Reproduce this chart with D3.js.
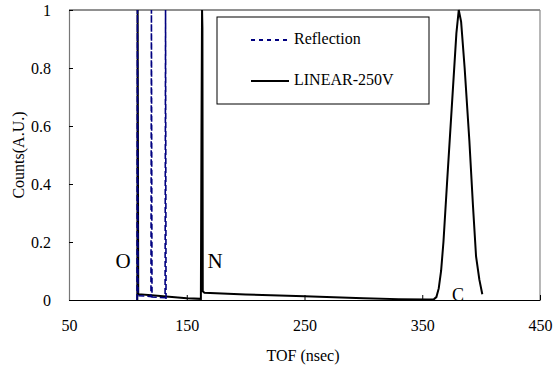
<!DOCTYPE html>
<html><head><meta charset="utf-8">
<script src="https://cdn.jsdelivr.net/npm/d3@7"></script>
<style>body{margin:0;background:#fff}svg{display:block}</style>
</head><body>
<script>
const xTicks = [50, 150, 250, 350, 450];
const yTicks = [0, 0.2, 0.4, 0.6, 0.8, 1];
const reflection = [
  [107.8,0],[108.1,1],[108.6,0.015],[119.6,0.012],[120,1],[120.5,0.01],[131.6,0.008],[132,1],[132.4,0.003]
];
const linear = [
  [107.5,0],[108,0],[108.3,1],[108.8,0.02],[120,0.016],[135,0.011],[150,0.006],[162,0.004],
  [162.5,0.57],[163,1],[163.3,0.94],[163.6,0.03],[165,0.025],[200,0.019],[250,0.013],[300,0.006],
  [330,0.003],[355,0.002],[360,0.003],[362,0.01],[364,0.04],[366,0.1],[368,0.2],[371,0.4],
  [375,0.66],[379,0.92],[381,1.0],[383,0.96],[386,0.8],[390,0.55],[393,0.33],[395.7,0.15],
  [398.5,0.07],[401,0.02]
];
const peakLabels = [["O",123,263,21],["N",215,263,21],["C",458,297,18]];
const legendItems = [["Reflection","#000080","4,4"],["LINEAR-250V","#000","none"]];

const W=555,H=369, L=69, R=540, T=10, B=300;
const FF="'Liberation Serif','Times New Roman',serif";
const svg=d3.select("body").append("svg").attr("width",W).attr("height",H)
  .attr("font-family",FF);
const x=d3.scaleLinear().domain([50,450]).range([L,R]);
const y=d3.scaleLinear().domain([0,1]).range([B,T]);

// frame
svg.append("line").attr("x1",L).attr("x2",R).attr("y1",T).attr("y2",T).attr("stroke","#222").attr("stroke-width",1);
svg.append("line").attr("x1",R).attr("x2",R).attr("y1",T).attr("y2",B).attr("stroke","#888").attr("stroke-width",1.2);

svg.append("clipPath").attr("id","c").append("rect").attr("x",L).attr("y",T-1).attr("width",R-L).attr("height",B-T+1);

const line=d3.line().x(d=>x(d[0])).y(d=>y(d[1]));
const g=svg.append("g").attr("clip-path","url(#c)");
g.append("path").datum(linear).attr("d",line).attr("fill","none").attr("stroke","#000").attr("stroke-width",2);
g.append("path").datum(reflection).attr("d",line).attr("fill","none").attr("stroke","#000080").attr("stroke-width",1.6).attr("stroke-dasharray","6,3");

// axes
const xa=svg.append("g").attr("transform",`translate(0,${B})`)
  .call(d3.axisBottom(x).tickValues(xTicks).tickSizeInner(-5).tickSizeOuter(0).tickPadding(20));
xa.attr("font-family",FF);
xa.select(".domain").attr("stroke","#000").attr("stroke-width",1.2);
xa.selectAll("text").attr("font-size",16).attr("fill","#000");
const ya=svg.append("g").attr("transform",`translate(${L},0)`)
  .call(d3.axisLeft(y).tickValues(yTicks).tickFormat(d=>d===0||d===1?d3.format("d")(d):d3.format(".1f")(d)).tickSizeInner(-4).tickSizeOuter(0).tickPadding(18));
ya.attr("font-family",FF);
ya.select(".domain").attr("stroke","#777").attr("stroke-width",1.2);
ya.selectAll("text").attr("font-size",16).attr("fill","#000");

svg.append("text").attr("x",303).attr("y",361).attr("text-anchor","middle").attr("font-size",16).text("TOF (nsec)");
svg.append("text").attr("transform","translate(24,155) rotate(-90)").attr("text-anchor","middle").attr("font-size",16).text("Counts(A.U.)");

peakLabels.forEach(p=>{
  svg.append("text").attr("x",p[1]).attr("y",p[2]).attr("text-anchor","middle").attr("dominant-baseline","middle").attr("font-size",p[3]).text(p[0]);
});

// legend
svg.append("rect").attr("x",217).attr("y",17).attr("width",212).attr("height",87).attr("fill","#fff").attr("stroke","#000").attr("stroke-width",1);
legendItems.forEach((it,i)=>{
  const yy=40+i*41;
  svg.append("line").attr("x1",251).attr("x2",289).attr("y1",yy).attr("y2",yy).attr("stroke",it[1]).attr("stroke-width",2).attr("stroke-dasharray",it[2]);
  svg.append("text").attr("x",294).attr("y",yy).attr("dominant-baseline","middle").attr("font-size",16).text(it[0]);
});
</script>
</body></html>
